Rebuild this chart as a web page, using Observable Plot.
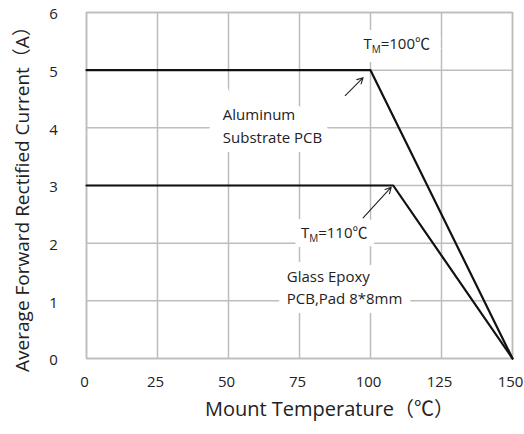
<!DOCTYPE html>
<html>
<head>
<meta charset="utf-8">
<script src="https://cdn.jsdelivr.net/npm/d3@7"></script>
<script src="https://cdn.jsdelivr.net/npm/@observablehq/plot@0.6"></script>
<style>
  html, body { margin: 0; padding: 0; background: #fff; }
  #chart { width: 524px; height: 434px; }
</style>
</head>
<body>
<div id="chart"></div>
<script>
// Data
const xTicks = [0, 25, 50, 75, 100, 125, 150];
const yTicks = [0, 1, 2, 3, 4, 5, 6];
const alTemp = [0, 100, 150];
const alCurrent = [5, 5, 0];
const geTemp = [0, 108, 150];
const geCurrent = [3, 3, 0];

// Annotations (data coordinates)
const labelText = ["TM=100℃", "Aluminum\nSubstrate PCB", "TM=110℃", "Glass Epoxy\nPCB,Pad 8*8mm"];
const labelX = [97.5, 48, 75.5, 70.5];
const labelY = [5.5, 4.06, 2.22, 1.26];
const arrowX1 = [91.1, 97.4];
const arrowY1 = [4.56, 2.44];
const arrowX2 = [97.4, 107.3];
const arrowY2 = [4.87, 2.97];

const FONT = "'Open Sans', 'Noto Sans CJK SC', sans-serif";
const TEXT = "#222";

const al = alTemp.map((t, i) => ({t, c: alCurrent[i]}));
const ge = geTemp.map((t, i) => ({t, c: geCurrent[i]}));
const labels = labelText.map((s, i) => ({s, x: labelX[i], y: labelY[i]}));
const arrows = arrowX1.map((x1, i) => ({x1, y1: arrowY1[i], x2: arrowX2[i], y2: arrowY2[i]}));

const chart = Plot.plot({
  width: 524,
  height: 434,
  marginLeft: 86,
  marginRight: 12,
  marginTop: 12,
  marginBottom: 76,
  style: {fontFamily: FONT, fontSize: "16px", color: TEXT, background: "#fff", overflow: "visible"},
  x: {domain: [0, 150], ticks: xTicks, label: null},
  y: {domain: [0, 6], ticks: yTicks, label: null},
  marks: [
    Plot.gridX(xTicks, {stroke: "#bdbdbd", strokeOpacity: 1, strokeWidth: 1.5}),
    Plot.gridY(yTicks, {stroke: "#bdbdbd", strokeOpacity: 1, strokeWidth: 1.5}),
    Plot.frame({stroke: "#bdbdbd", strokeWidth: 1.5}),
    Plot.axisX(xTicks, {tickSize: 0, tickPadding: 18, fontSize: 15, fill: TEXT, dx: -2, tickFormat: d3.format("d")}),
    Plot.axisY(yTicks, {tickSize: 0, tickPadding: 29, fontSize: 15, fill: TEXT, textAnchor: "middle", dx: -4, dy: 2, tickFormat: d3.format("d")}),
    // white boxes behind annotation text
    Plot.text(labels, {x: "x", y: "y", text: "s", textAnchor: "start", lineHeight: 1.5, fontSize: 15,
      fill: "white", stroke: "white", strokeWidth: 18, strokeLinejoin: "miter"}),
    Plot.line(al, {x: "t", y: "c", stroke: "#111", strokeWidth: 2.2}),
    Plot.line(ge, {x: "t", y: "c", stroke: "#111", strokeWidth: 2.2}),
    Plot.arrow(arrows, {x1: "x1", y1: "y1", x2: "x2", y2: "y2", stroke: "#222", strokeWidth: 1.1, headLength: 9, headAngle: 55}),
    Plot.text(labels, {x: "x", y: "y", text: "s", textAnchor: "start", lineHeight: 1.5, fontSize: 15, fill: TEXT}),
    Plot.text([0], {frameAnchor: "bottom", text: () => "Mount Temperature（℃）", dy: 57, dx: 30, fontSize: 20, fill: TEXT}),
    Plot.text([0], {frameAnchor: "left", textAnchor: "middle", text: () => "Average Forward Rectified Current（A）", rotate: -90, dx: -64, dy: 9, fontSize: 19, fill: TEXT})
  ]
});

document.getElementById("chart").appendChild(chart);

// subscript M in T_M labels
d3.select(chart).selectAll("text").each(function() {
  const el = d3.select(this);
  const s = this.textContent;
  if (this.children.length === 0 && /^TM=/.test(s) && el.attr("fill") !== "white" ) {
    const rest = s.slice(2);
    el.text(null);
    el.append("tspan").text("T");
    el.append("tspan").text("M").attr("font-size", "10px").attr("dy", "4");
    el.append("tspan").text(rest).attr("dy", "-4");
  }
});
</script>
</body>
</html>
